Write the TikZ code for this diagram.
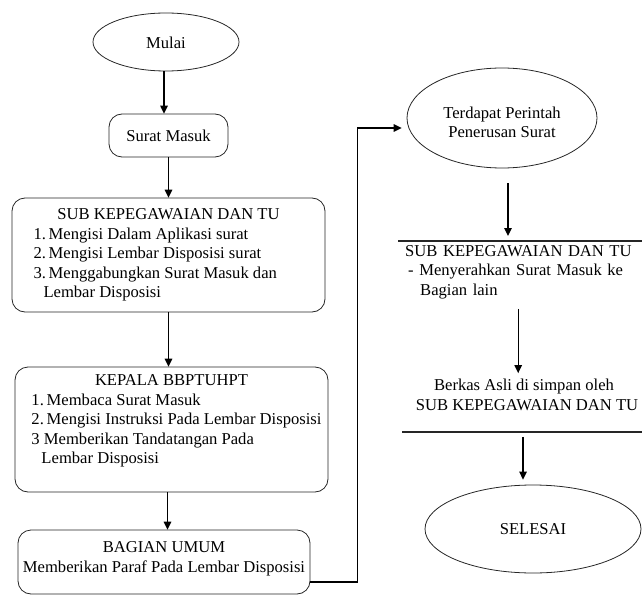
\documentclass[tikz,border=0pt]{standalone}
\usepackage{fontspec}
\setmainfont{Liberation Serif}
\newfontfamily\flowfont{Liberation Serif}
\usetikzlibrary{arrows.meta,shapes.geometric}

\begin{document}
\begin{tikzpicture}[x=1pt, y=-1pt,
    every node/.style={font=\flowfont\fontsize{16.6}{19.5}\selectfont, inner sep=0pt},
    terminal/.style={draw=black!85, ellipse, line width=0.8pt},
    procbox/.style={draw=black!85, rounded corners=13pt, line width=0.8pt},
    flow/.style={line width=1.4pt, -{Triangle[length=8pt, width=7.5pt]}},
    rule/.style={line width=1.2pt, black!85}]
  \useasboundingbox (0, 0) rectangle (642, 596);

  % left column
  \node[terminal, minimum width=146, minimum height=58, text height=14pt] (mulai) at (166, 42) {Mulai};
  \node[procbox, minimum width=119, minimum height=43] (masuk) at (168.5, 135.5) {Surat Masuk};
  \node[procbox, minimum width=313, minimum height=114, align=left] (sub) at (168.5, 255)
    {\makebox[292pt]{SUB KEPEGAWAIAN DAN TU}\\
     \hspace*{11pt}1.\,Mengisi Dalam Aplikasi surat\\
     \hspace*{11pt}2.\,Mengisi Lembar Disposisi surat\\
     \hspace*{11pt}3.\,Menggabungkan Surat Masuk dan\\
     \hspace*{21pt}Lembar Disposisi};
  \node[procbox, minimum width=313, minimum height=125, align=left, text depth=20pt] (kepala) at (171.5, 429.5)
    {\makebox[300pt]{KEPALA BBPTUHPT}\\
     \hspace*{10pt}1.\,Membaca Surat Masuk\\
     \hspace*{10pt}2.\,Mengisi Instruksi Pada Lembar Disposisi\\
     \hspace*{10pt}3 Memberikan Tandatangan Pada\\
     \hspace*{20pt}Lembar Disposisi};
  \node[procbox, minimum width=292, minimum height=64, align=center, text depth=10pt] (bagian) at (164, 562)
    {BAGIAN UMUM\\ Memberikan Paraf Pada Lembar Disposisi};

  % right column
  \node[terminal, minimum width=190, minimum height=100, align=center, text height=40pt] (terdapat) at (502, 118)
    {Terdapat Perintah\\ Penerusan Surat};
  \node[anchor=north west, text width=236pt, align=left] (subtu) at (405, 245)
    {SUB KEPEGAWAIAN DAN TU\\
     \hspace*{3pt}- Menyerahkan Surat Masuk ke\\
     \hspace*{15pt}Bagian lain};
  \node[align=center] (berkas) at (524, 395)
    {Berkas Asli di simpan oleh\\ \hspace*{6pt}SUB KEPEGAWAIAN DAN TU};
  \node[terminal, minimum width=216, minimum height=88] (selesai) at (533, 529) {SELESAI};

  \draw[rule] (398, 241) -- (642, 241);
  \draw[rule] (402, 432) -- (642, 432);

  % connectors
  \draw[flow] ([xshift=-2pt]mulai.south) -- ([xshift=-2pt]mulai.south |- masuk.north);
  \draw[flow] (masuk.south) -- (sub.north);
  \draw[flow] (sub.south) -- (sub.south |- kepala.north);
  \draw[flow] ([xshift=-4pt]kepala.south) -- ([xshift=-4pt]kepala.south |- bagian.north);
  \draw[flow, shorten >=5pt] ([yshift=-20pt]bagian.east) -- ++(47, 0) |- ([yshift=-10pt]terdapat.west);
  \draw[flow, shorten <=15pt, shorten >=9pt] ([xshift=6pt]terdapat.south) -- ([xshift=6pt]terdapat.south |- subtu.north);
  \draw[flow, shorten <=10pt, shorten >=6pt] ([xshift=-5pt]subtu.south) -- ([xshift=-5pt]subtu.south |- berkas.north);
  \draw[flow, shorten <=26pt, shorten >=5pt] ([xshift=-1pt]berkas.south) -- ([xshift=-1pt]berkas.south |- selesai.north);
\end{tikzpicture}
\end{document}
